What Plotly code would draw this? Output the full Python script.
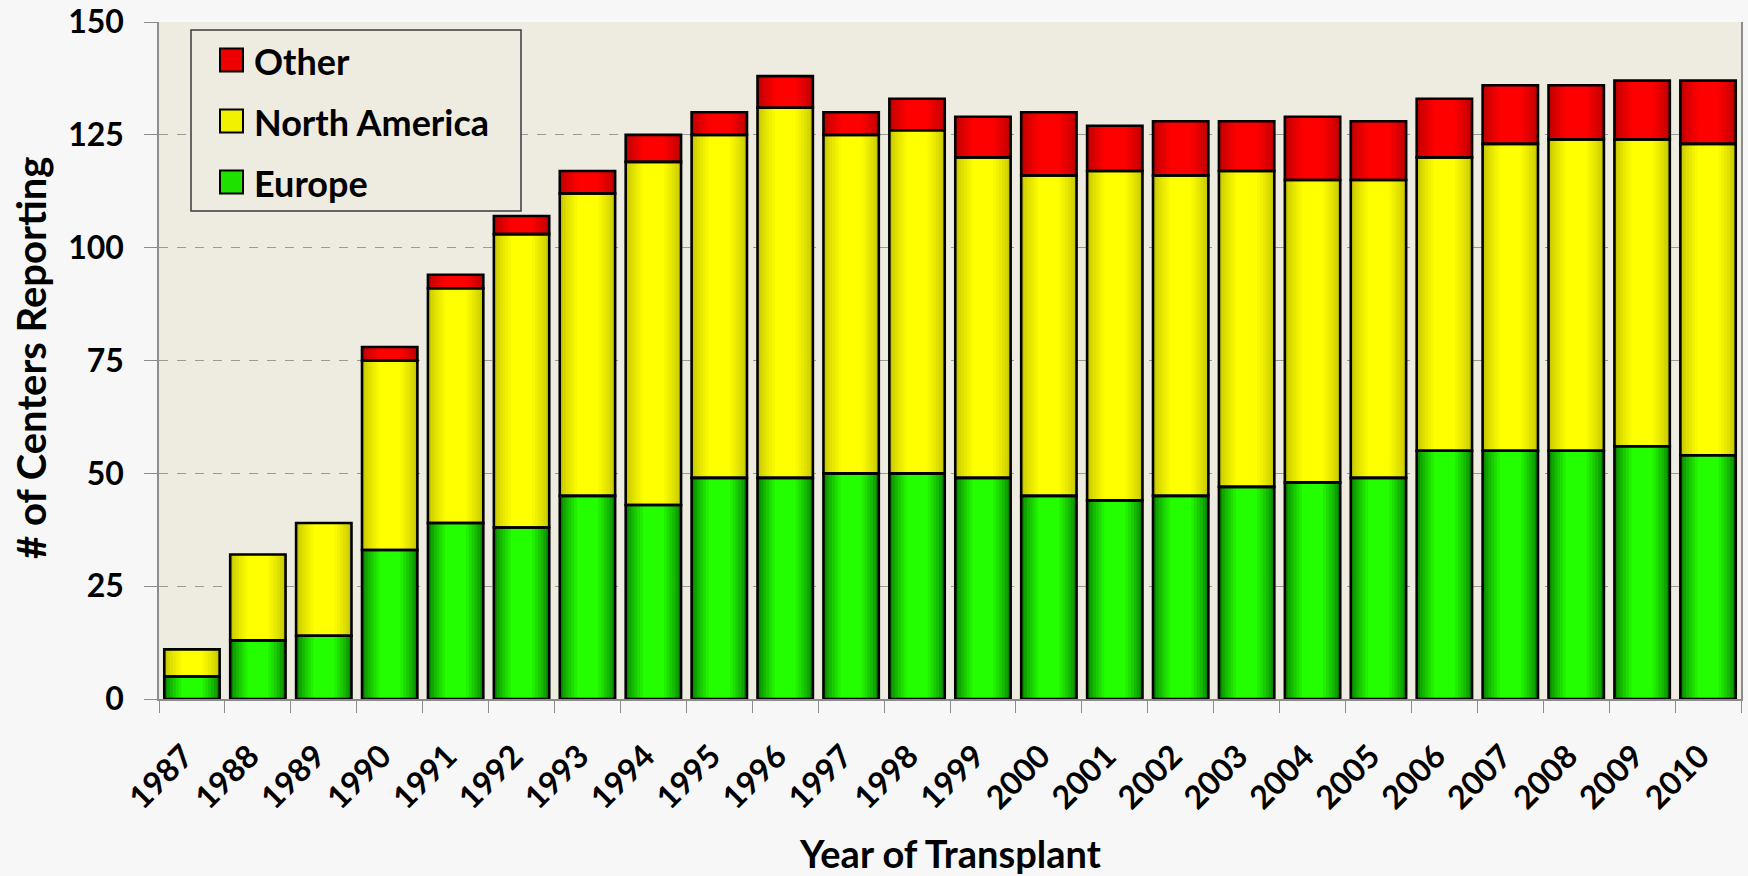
import plotly.graph_objects as go

# Number of centers reporting per year, split by region
years = ["1987", "1988", "1989", "1990", "1991", "1992", "1993", "1994",
         "1995", "1996", "1997", "1998", "1999", "2000", "2001", "2002",
         "2003", "2004", "2005", "2006", "2007", "2008", "2009", "2010"]
europe = [5, 13, 14, 33, 39, 38, 45, 43, 49, 49, 50, 50,
          49, 45, 44, 45, 47, 48, 49, 55, 55, 55, 56, 54]
north_america = [6, 19, 25, 42, 52, 65, 67, 76, 76, 82, 75, 76,
                 71, 71, 73, 71, 70, 67, 66, 65, 68, 69, 68, 69]
other = [0, 0, 0, 3, 3, 4, 5, 6, 5, 7, 5, 7,
         9, 14, 10, 12, 11, 14, 13, 13, 13, 12, 13, 14]
y_ticks = [0, 25, 50, 75, 100, 125, 150]

series_names = ["Europe", "North America", "Other"]
series_values = [europe, north_america, other]

# edge / centre colours for the shaded bar fill
palette = {
    "Europe": ((10, 135, 0), (36, 255, 0)),
    "North America": ((200, 200, 0), (255, 255, 0)),
    "Other": ((190, 0, 0), (255, 0, 0)),
}

W, H = 1748, 876
ML, MR, MT, MB = 159, 7, 22, 177
PLOT_BG = "#EEEBE1"
PAPER_BG = "#F7F7F7"
FONT = "Lato"
BAR_W = 0.84
N_STEPS = 7


def mix(c0, c1, t):
    return "rgb({},{},{})".format(*[round(a + (b - a) * t) for a, b in zip(c0, c1)])


fig = go.Figure()

base = [0] * len(years)
bases = []
for vals in series_values:
    bases.append(list(base))
    base = [b + v for b, v in zip(base, vals)]

# shaded fill: nested bars, narrower and brighter towards the centre
for name, vals, b in zip(series_names, series_values, bases):
    edge, centre = palette[name]
    ys = [v if v else None for v in vals]
    for k in range(N_STEPS):
        t = k / (N_STEPS - 1)
        frac = 1.0 - 0.62 * t
        fig.add_trace(go.Bar(
            x=years, y=ys, base=b, width=BAR_W * frac,
            marker=dict(color=mix(edge, centre, t ** 0.8), line=dict(width=0)),
            showlegend=False, hoverinfo="skip",
        ))

# black outlines on top of the fill
for name, vals, b in zip(series_names, series_values, bases):
    ys = [v if v else None for v in vals]
    fig.add_trace(go.Bar(
        x=years, y=ys, base=b, width=BAR_W, name=name,
        marker=dict(color="rgba(0,0,0,0)", line=dict(color="black", width=2.6)),
        showlegend=False,
    ))

# pixel positions converted to paper fractions
pw, ph = W - ML - MR, H - MT - MB


def px(x):
    return (x - ML) / pw


def py(y):
    return (H - MB - y) / ph


shapes = [dict(type="rect", xref="paper", yref="paper",
               x0=px(191), x1=px(521), y0=py(211), y1=py(30),
               fillcolor=PLOT_BG, line=dict(color="#3a3a3a", width=1.5), layer="above")]
annotations = []
legend_rows = [("Other", 60), ("North America", 121), ("Europe", 182)]
for name, yc in legend_rows:
    edge, centre = palette[name]
    shapes.append(dict(type="rect", xref="paper", yref="paper",
                       x0=px(220), x1=px(243), y0=py(yc + 11.5), y1=py(yc - 11.5),
                       fillcolor=mix(edge, centre, 0.75),
                       line=dict(color="black", width=2), layer="above"))
    annotations.append(dict(xref="paper", yref="paper", x=px(252), y=py(yc + 1),
                            xanchor="left", yanchor="middle", showarrow=False,
                            text=name, font=dict(family=FONT, size=36, color="black", weight="bold")))

# axis titles
annotations.append(dict(xref="paper", yref="paper", x=px(31), y=py(358),
                        xanchor="center", yanchor="middle", showarrow=False, textangle=-90,
                        text="# of Centers Reporting",
                        font=dict(family=FONT, size=40, color="black", weight="bold")))
annotations.append(dict(xref="paper", yref="paper", x=px(950), y=py(853),
                        xanchor="center", yanchor="middle", showarrow=False,
                        text="Year of Transplant",
                        font=dict(family=FONT, size=38, color="black", weight="bold")))

fig.update_layout(
    width=W, height=H,
    margin=dict(l=ML, r=MR, t=MT, b=MB, autoexpand=False),
    barmode="overlay",
    plot_bgcolor=PLOT_BG, paper_bgcolor=PAPER_BG,
    font=dict(family=FONT, color="black", weight="bold"),
    shapes=shapes, annotations=annotations,
    showlegend=False,
)
fig.update_xaxes(
    type="category", range=[-0.5, len(years) - 0.5],
    tickangle=-45, tickfont=dict(size=32, family=FONT, weight="bold"),
    ticks="outside", tickson="boundaries", ticklen=12, tickcolor="#8c8c8c",
    ticklabelshift=-8, ticklabelstandoff=24,
    showline=True, linecolor="#8c8c8c", linewidth=1.5, showgrid=False,
    automargin=False,
)
fig.update_yaxes(
    range=[0, 150], tickvals=y_ticks, ticktext=[str(v) for v in y_ticks],
    tickfont=dict(size=32, family=FONT, weight="bold"),
    ticks="outside", ticklen=13, tickcolor="#8c8c8c", ticklabelstandoff=14,
    showline=True, mirror=True, linecolor="#8c8c8c", linewidth=1.5,
    showgrid=True, gridcolor="#9a9a9a", griddash="dash", gridwidth=1, zeroline=False,
    automargin=False,
)

fig.write_html("out.html")
